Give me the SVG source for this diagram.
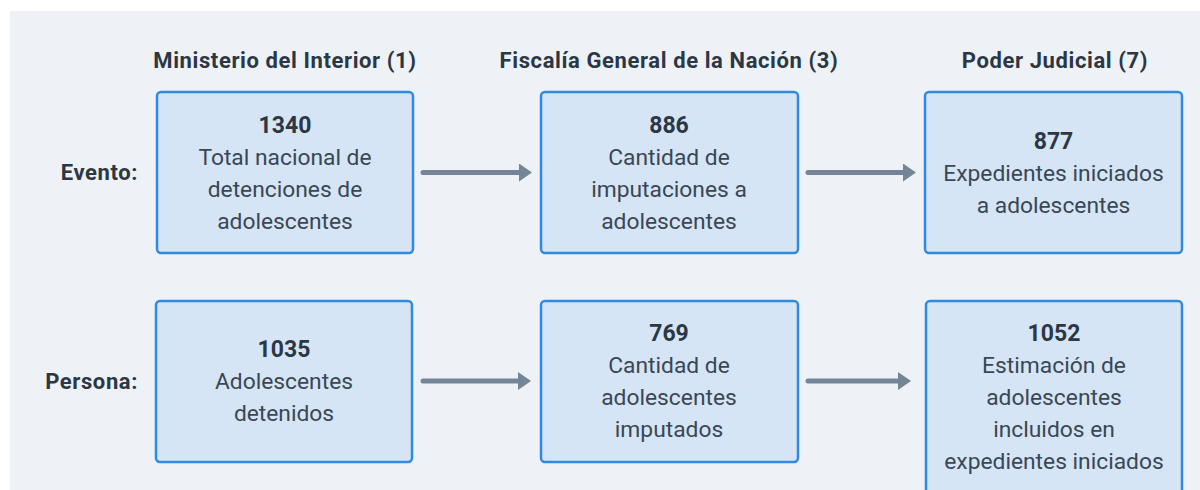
<svg xmlns="http://www.w3.org/2000/svg" width="1200" height="490" viewBox="0 0 1200 490">
<defs>
<style>
.panel{fill:#eef2f6}
.box{fill:#d5e5f5;stroke:#2f8ae0;stroke-width:2.5}
.h{font-family:Roboto,"Liberation Sans",sans-serif;font-weight:700;font-size:22px;letter-spacing:0.6px;fill:#2c3745;text-anchor:middle}
.lbl{font-family:Roboto,"Liberation Sans",sans-serif;font-weight:700;font-size:22px;letter-spacing:0.6px;fill:#2c3745;text-anchor:end}
.num{font-family:Roboto,"Liberation Sans",sans-serif;font-weight:700;font-size:23px;fill:#2c3745;text-anchor:middle}
.t{font-family:Roboto,"Liberation Sans",sans-serif;font-size:22.8px;fill:#3a4755;text-anchor:middle}
.conn{stroke:#738596;stroke-width:5;stroke-linecap:round;fill:none;marker-end:url(#ah)}
</style>
<marker id="ah" markerUnits="userSpaceOnUse" markerWidth="13" markerHeight="18" viewBox="0 0 13 18" refX="0" refY="9" orient="auto">
<path d="M0,0 L13,9 L0,18 z" fill="#738596"/>
</marker>
</defs>
<rect class="panel" x="10" y="11" width="1190" height="479"/>
<g id="headers">
<text class="h" x="285" y="68">Ministerio del Interior (1)</text>
<text class="h" x="669" y="68">Fiscalía General de la Nación (3)</text>
<text class="h" x="1055" y="68">Poder Judicial (7)</text>
</g>
<g id="row-labels">
<text class="lbl" x="138" y="180">Evento:</text>
<text class="lbl" x="138" y="389">Persona:</text>
</g>
<g id="connectors">
<line class="conn" x1="423" y1="172.5" x2="519" y2="172.5"/>
<line class="conn" x1="808" y1="172.5" x2="903" y2="172.5"/>
<line class="conn" x1="423" y1="381" x2="518" y2="381"/>
<line class="conn" x1="808" y1="381" x2="898" y2="381"/>
</g>
<g id="n1340">
<rect class="box" x="157" y="92" width="256" height="161" rx="4"/>
<text class="num" x="285" y="133">1340</text>
<text class="t" x="285" y="165">Total nacional de</text>
<text class="t" x="285" y="197">detenciones de</text>
<text class="t" x="285" y="229">adolescentes</text>
</g>
<g id="n886">
<rect class="box" x="541" y="92" width="257" height="161" rx="4"/>
<text class="num" x="669" y="133">886</text>
<text class="t" x="669" y="165">Cantidad de</text>
<text class="t" x="669" y="197">imputaciones a</text>
<text class="t" x="669" y="229">adolescentes</text>
</g>
<g id="n877">
<rect class="box" x="925" y="92" width="257" height="161" rx="4"/>
<text class="num" x="1053.5" y="149">877</text>
<text class="t" x="1053.5" y="181">Expedientes iniciados</text>
<text class="t" x="1053.5" y="213">a adolescentes</text>
</g>
<g id="n1035">
<rect class="box" x="156" y="301" width="256" height="161" rx="4"/>
<text class="num" x="284" y="357">1035</text>
<text class="t" x="284" y="389">Adolescentes</text>
<text class="t" x="284" y="421">detenidos</text>
</g>
<g id="n769">
<rect class="box" x="541" y="301" width="257" height="161" rx="4"/>
<text class="num" x="669" y="341">769</text>
<text class="t" x="669" y="373">Cantidad de</text>
<text class="t" x="669" y="405">adolescentes</text>
<text class="t" x="669" y="437">imputados</text>
</g>
<g id="n1052">
<rect class="box" x="926" y="301" width="256" height="194" rx="4"/>
<text class="num" x="1054" y="341">1052</text>
<text class="t" x="1054" y="373">Estimación de</text>
<text class="t" x="1054" y="405">adolescentes</text>
<text class="t" x="1054" y="437">incluidos en</text>
<text class="t" x="1054" y="469">expedientes iniciados</text>
</g>
</svg>
